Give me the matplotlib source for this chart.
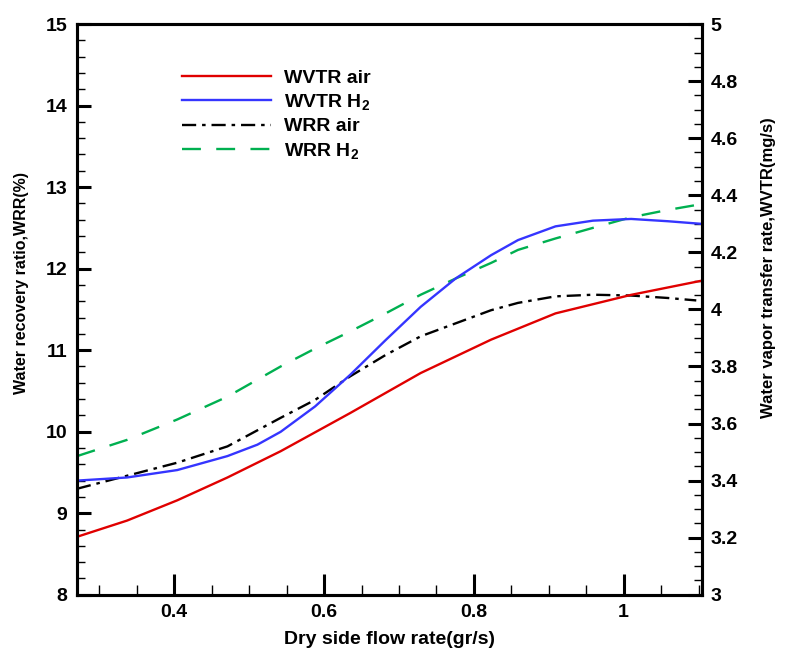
import matplotlib.pyplot as plt
from matplotlib.ticker import MultipleLocator

plt.rcParams['font.family'] = ['Liberation Sans', 'DejaVu Sans']
plt.rcParams['font.weight'] = 'bold'
plt.rcParams['mathtext.fontset'] = 'custom'
plt.rcParams['mathtext.bf'] = 'Liberation Sans:bold'
plt.rcParams['mathtext.rm'] = 'Liberation Sans:bold'
plt.rcParams['mathtext.default'] = 'bf'

# WVTR curves (right axis, mg/s)
x_wvtr_air = [0.27, 0.337, 0.404, 0.471, 0.542, 0.635, 0.729, 0.823, 0.909, 1.010, 1.103]
wvtr_air = [3.203, 3.260, 3.331, 3.411, 3.503, 3.637, 3.777, 3.894, 3.986, 4.051, 4.100]

x_wvtr_h2 = [0.27, 0.337, 0.404, 0.471, 0.511, 0.542, 0.588, 0.635, 0.682, 0.729,
             0.776, 0.823, 0.859, 0.909, 0.959, 1.010, 1.059, 1.103]
wvtr_h2 = [3.400, 3.411, 3.437, 3.486, 3.526, 3.571, 3.660, 3.771, 3.892, 4.009,
           4.109, 4.190, 4.243, 4.291, 4.311, 4.317, 4.309, 4.300]

# WRR curves (left axis, %)
x_wrr_air = [0.27, 0.337, 0.404, 0.471, 0.542, 0.588, 0.635, 0.682, 0.729, 0.776,
             0.823, 0.859, 0.909, 0.959, 1.010, 1.059, 1.097]
wrr_air = [9.30, 9.46, 9.62, 9.82, 10.17, 10.39, 10.68, 10.94, 11.17, 11.33,
           11.49, 11.58, 11.66, 11.68, 11.67, 11.64, 11.61]

x_wrr_h2 = [0.27, 0.337, 0.404, 0.471, 0.542, 0.588, 0.635, 0.682, 0.729, 0.776,
            0.823, 0.859, 0.909, 0.959, 1.010, 1.059, 1.103]
wrr_h2 = [9.70, 9.90, 10.15, 10.43, 10.80, 11.02, 11.23, 11.45, 11.68, 11.88,
          12.07, 12.23, 12.37, 12.50, 12.63, 12.72, 12.79]

fig = plt.figure(figsize=(8.1, 6.5), dpi=100)
ax = fig.add_axes([0.095, 0.085, 0.772, 0.878])
ax2 = ax.twinx()

lw = 1.7
l1, = ax2.plot(x_wvtr_air, wvtr_air, color='#e00000', lw=lw, label='WVTR air')
l2, = ax2.plot(x_wvtr_h2, wvtr_h2, color='#3535ff', lw=lw, label='WVTR H$_2$')
l3, = ax.plot(x_wrr_air, wrr_air, color='black', lw=lw, dashes=(6, 2.5, 1.5, 2.5), label='WRR air')
l4, = ax.plot(x_wrr_h2, wrr_h2, color='#00b050', lw=lw, dashes=(8, 6.5), label='WRR H$_2$')

ax.set_xlim(0.27, 1.105)
ax.set_ylim(8, 15)
ax2.set_ylim(3, 5)

ax.xaxis.set_major_locator(MultipleLocator(0.2))
ax.xaxis.set_minor_locator(MultipleLocator(0.05))
ax.yaxis.set_major_locator(MultipleLocator(1))
ax.yaxis.set_minor_locator(MultipleLocator(0.2))
ax2.yaxis.set_major_locator(MultipleLocator(0.2))
ax2.yaxis.set_minor_locator(MultipleLocator(0.05))
ax2.yaxis.set_major_formatter(plt.FuncFormatter(lambda v, p: f'{v:g}'))
ax.xaxis.set_major_formatter(plt.FuncFormatter(lambda v, p: f'{v:g}'))

for a in (ax, ax2):
    a.tick_params(which='major', direction='in', length=10, width=2.2, labelsize=14)
    a.tick_params(which='minor', direction='in', length=6, width=1.0)
    for s in a.spines.values():
        s.set_linewidth(2.2)
ax.tick_params(axis='x', which='major', length=15, pad=7)
ax.tick_params(axis='x', which='minor', length=7)
ax.tick_params(axis='y', pad=7)
ax2.tick_params(axis='y', pad=6)

ax.set_xlabel('Dry side flow rate(gr/s)', fontsize=14, fontweight='bold', va='center')
ax.xaxis.set_label_coords(0.5, -0.079)
ax.set_ylabel('Water recovery ratio,WRR(%)', fontsize=11.5, fontweight='bold', va='center')
ax.yaxis.set_label_coords(-0.088, 0.546)
ax2.set_ylabel('Water vapor transfer rate,WVTR(mg/s)', fontsize=12, fontweight='bold',
               va='center', rotation=90)
ax2.yaxis.set_label_coords(1.106, 0.574)

ax2.legend(handles=[l1, l2, l3, l4], loc='upper left', bbox_to_anchor=(0.14, 0.952),
           frameon=False, fontsize=14, handlelength=4.6, handletextpad=0.65,
           labelspacing=0.29)

fig.savefig('out.png', dpi=100)
